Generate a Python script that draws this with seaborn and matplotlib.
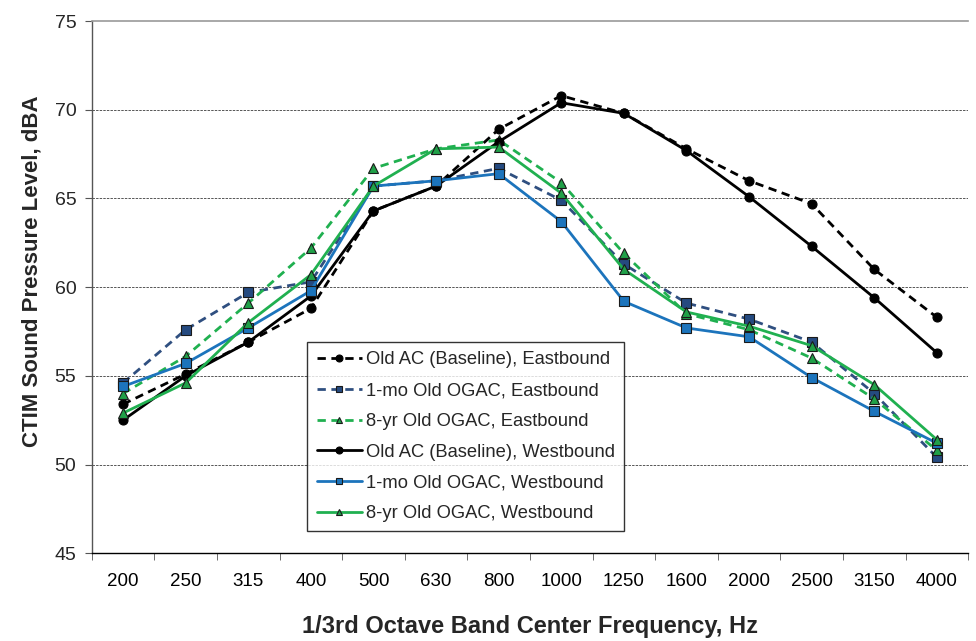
import numpy as np
import pandas as pd
import seaborn as sns
import matplotlib.pyplot as plt
from matplotlib import font_manager

bands = ["200", "250", "315", "400", "500", "630", "800", "1000",
         "1250", "1600", "2000", "2500", "3150", "4000"]

old_ac_eb = [53.4, 55.1, 56.9, 58.8, 64.3, 65.7, 68.9, 70.8, 69.8, 67.8, 66.0, 64.7, 61.0, 58.3]
mo1_eb = [54.6, 57.6, 59.7, 60.3, 65.7, 66.0, 66.7, 64.9, 61.3, 59.1, 58.2, 56.9, 54.0, 50.4]
yr8_eb = [54.0, 56.1, 59.1, 62.2, 66.7, 67.8, 68.3, 65.9, 61.9, 58.5, 57.6, 56.0, 53.7, 50.8]
old_ac_wb = [52.5, 55.0, 56.9, 59.5, 64.3, 65.7, 68.2, 70.4, 69.8, 67.7, 65.1, 62.3, 59.4, 56.3]
mo1_wb = [54.4, 55.7, 57.7, 59.8, 65.7, 66.0, 66.4, 63.7, 59.2, 57.7, 57.2, 54.9, 53.0, 51.2]
yr8_wb = [52.9, 54.6, 58.0, 60.7, 65.7, 67.8, 67.9, 65.3, 61.0, 58.6, 57.8, 56.7, 54.5, 51.4]

labels = ["Old AC (Baseline), Eastbound", "1-mo Old OGAC, Eastbound",
          "8-yr Old OGAC, Eastbound", "Old AC (Baseline), Westbound",
          "1-mo Old OGAC, Westbound", "8-yr Old OGAC, Westbound"]
values = [old_ac_eb, mo1_eb, yr8_eb, old_ac_wb, mo1_wb, yr8_wb]
colors = ["#000000", "#2F4F80", "#20B050", "#000000", "#1C74BC", "#20B050"]
face = ["#000000", "#254A80", "#20A048", "#000000", "#1C74BC", "#20A048"]
markers = ["o", "s", "^", "o", "s", "^"]
dashed = [True, True, True, False, False, False]

sns.set_style("white")
names = {f.name for f in font_manager.fontManager.ttflist}
label_font = "Liberation Sans Narrow" if "Liberation Sans Narrow" in names else "Liberation Sans"
plt.rcParams["font.family"] = ["Liberation Sans", "DejaVu Sans"]

fig = plt.figure(figsize=(9.76, 6.41), dpi=100)
ax = fig.add_axes([0.094, 0.137, 0.898, 0.830])

for lab, vals, c, fc, m, d in zip(labels, values, colors, face, markers, dashed):
    sns.lineplot(x=bands, y=vals, ax=ax, label=lab, color=c, sort=False,
                 linestyle=(0, (3, 2)) if d else "-", linewidth=2.0,
                 marker=m, markersize=7 if m != "o" else 6.5,
                 markerfacecolor=fc, markeredgecolor="#1a1a1a" if m != "o" else "#000000",
                 markeredgewidth=0.8)

ax.set_xlim(-0.5, len(bands) - 0.5)
ax.set_ylim(45, 75)
ax.set_yticks(np.arange(45, 76, 5))
ax.set_xticks(range(len(bands)))
ax.set_xticklabels(bands)
ax.set_xticks(np.arange(-0.5, len(bands), 1), minor=True)

for yv in range(50, 75, 5):
    ax.axhline(yv, color="#555555", linestyle=(0, (2.5, 1.2)), linewidth=0.7, zorder=0)

ax.spines["right"].set_visible(False)
ax.spines["top"].set_color("#999999")
ax.spines["top"].set_linewidth(1.2)
ax.spines["left"].set_color("#555555")
ax.spines["bottom"].set_color("#000000")
ax.spines["left"].set_linewidth(1.0)
ax.spines["bottom"].set_linewidth(1.0)

ax.tick_params(axis="x", which="major", length=0, pad=14, labelsize=13.5, colors="#000000")
ax.tick_params(axis="x", which="minor", length=5, color="#555555", bottom=True)
ax.tick_params(axis="y", length=5, left=True, pad=6, labelsize=14, color="#555555")

ax.set_xlabel("1/3rd Octave Band Center Frequency, Hz", family=[label_font, "DejaVu Sans"],
              fontweight="bold", fontsize=17, labelpad=18)
ax.set_ylabel("CTIM Sound Pressure Level, dBA", family=[label_font, "DejaVu Sans"],
              fontweight="bold", fontsize=16)
ax.yaxis.set_label_coords(-0.056, 0.53)

leg = ax.legend(loc="lower left", bbox_to_anchor=(0.246, 0.041), fontsize=13.2,
                frameon=True, fancybox=False, handlelength=2.5, labelspacing=0.75,
                borderpad=0.5, handletextpad=0.2, borderaxespad=0)
leg.get_frame().set_edgecolor("#000000")
leg.get_frame().set_linewidth(1.0)
for h in leg.legend_handles:
    h.set_markersize(5)

fig.savefig("out.png", dpi=100)
